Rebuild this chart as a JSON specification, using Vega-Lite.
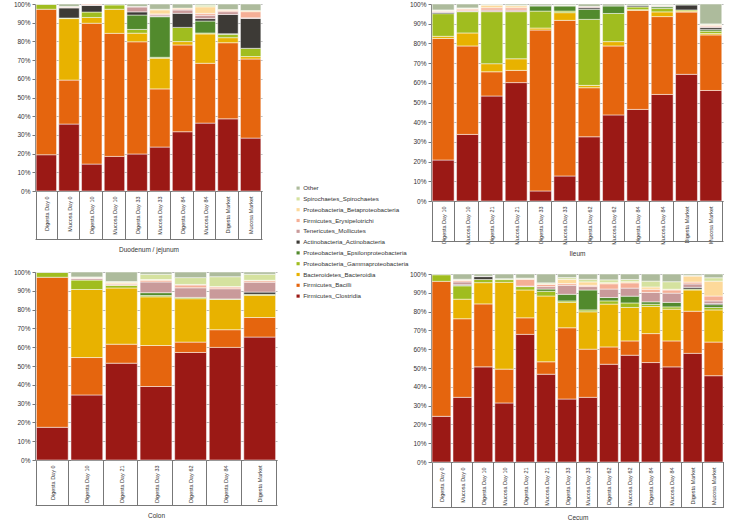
{
  "$schema": "https://vega.github.io/schema/vega-lite/v6.json",
  "padding": {"left": 0, "top": 1, "right": 0, "bottom": 0},
  "background": "white",
  "config": {
    "view": {"stroke": null},
    "font": "Liberation Sans",
    "axis": {"labelFont": "Liberation Sans", "titleFont": "Liberation Sans", "labelColor": "#333", "titleColor": "#333", "domainColor": "#777", "tickColor": "#777", "titleFontWeight": "normal"},
    "axisY": {"labelFontSize": 6.5, "tickSize": 3, "labelPadding": 2, "grid": true, "gridColor": "#b5b5b5", "gridWidth": 1},
    "axisX": {"labelFontSize": 5.5, "labelAngle": -90, "tickBand": "extent", "titleFontSize": 6.5, "labelOverlap": false, "grid": false},
    "legend": {"orient": "none", "legendX": 260, "legendY": 181, "symbolType": "square", "symbolSize": 10, "symbolStrokeWidth": 0, "labelFontSize": 6.2, "labelFont": "Liberation Sans", "labelColor": "#333", "rowPadding": 3.8, "labelOffset": 2, "padding": 0}
  },
  "datasets": {
    "d": [
      {"panel": "Duodenum / jejunum", "sample": "Digesta Day 0", "Firmicutes_Clostridia": 19.4, "Firmicutes_Bacilli": 77.8, "Proteobacteria_Gammaproteobacteria": 2.6, "Other": 0.2},
      {"panel": "Duodenum / jejunum", "sample": "Mucosa Day 0", "Firmicutes_Clostridia": 35.8, "Firmicutes_Bacilli": 23.5, "Bacteroidetes_Bacteroidia": 32.9, "Proteobacteria_Gammaproteobacteria": 0.3, "Actinobacteria_Actinobacteria": 5.4, "Tenericutes_Mollicutes": 0.3, "Firmicutes_Erysipelotrichi": 0.3, "Proteobacteria_Betaproteobacteria": 0.2, "Other": 1.3},
      {"panel": "Duodenum / jejunum", "sample": "Digesta Day 10", "Firmicutes_Clostridia": 14.4, "Firmicutes_Bacilli": 75.3, "Bacteroidetes_Bacteroidia": 3.1, "Proteobacteria_Gammaproteobacteria": 2.9, "Actinobacteria_Actinobacteria": 3.5, "Tenericutes_Mollicutes": 0.4, "Firmicutes_Erysipelotrichi": 0.4},
      {"panel": "Duodenum / jejunum", "sample": "Mucosa Day 10", "Firmicutes_Clostridia": 18.5, "Firmicutes_Bacilli": 65.8, "Bacteroidetes_Bacteroidia": 12.9, "Proteobacteria_Gammaproteobacteria": 2.3, "Other": 0.5},
      {"panel": "Duodenum / jejunum", "sample": "Digesta Day 33", "Firmicutes_Clostridia": 19.8, "Firmicutes_Bacilli": 60.0, "Bacteroidetes_Bacteroidia": 4.6, "Proteobacteria_Gammaproteobacteria": 2.0, "Proteobacteria_Epsilonproteobacteria": 7.7, "Actinobacteria_Actinobacteria": 1.7, "Tenericutes_Mollicutes": 2.6, "Firmicutes_Erysipelotrichi": 0.3, "Other": 1.3},
      {"panel": "Duodenum / jejunum", "sample": "Mucosa Day 33", "Firmicutes_Clostridia": 23.5, "Firmicutes_Bacilli": 31.1, "Bacteroidetes_Bacteroidia": 16.4, "Proteobacteria_Gammaproteobacteria": 0.5, "Proteobacteria_Epsilonproteobacteria": 21.7, "Actinobacteria_Actinobacteria": 0.2, "Tenericutes_Mollicutes": 0.8, "Firmicutes_Erysipelotrichi": 0.5, "Proteobacteria_Betaproteobacteria": 2.2, "Spirochaetes_Spirochaetes": 0.3, "Other": 2.8},
      {"panel": "Duodenum / jejunum", "sample": "Digesta Day 84", "Firmicutes_Clostridia": 31.7, "Firmicutes_Bacilli": 46.4, "Bacteroidetes_Bacteroidia": 1.8, "Proteobacteria_Gammaproteobacteria": 7.6, "Actinobacteria_Actinobacteria": 7.5, "Tenericutes_Mollicutes": 1.8, "Firmicutes_Erysipelotrichi": 0.5, "Proteobacteria_Betaproteobacteria": 0.5, "Other": 2.2},
      {"panel": "Duodenum / jejunum", "sample": "Mucosa Day 84", "Firmicutes_Clostridia": 36.3, "Firmicutes_Bacilli": 32.0, "Bacteroidetes_Bacteroidia": 15.7, "Proteobacteria_Gammaproteobacteria": 0.5, "Proteobacteria_Epsilonproteobacteria": 6.4, "Actinobacteria_Actinobacteria": 1.3, "Tenericutes_Mollicutes": 1.8, "Firmicutes_Erysipelotrichi": 1.0, "Proteobacteria_Betaproteobacteria": 3.5, "Spirochaetes_Spirochaetes": 0.9, "Other": 0.6},
      {"panel": "Duodenum / jejunum", "sample": "Digesta Market", "Firmicutes_Clostridia": 38.6, "Firmicutes_Bacilli": 40.7, "Bacteroidetes_Bacteroidia": 2.7, "Proteobacteria_Gammaproteobacteria": 1.8, "Proteobacteria_Epsilonproteobacteria": 0.3, "Actinobacteria_Actinobacteria": 10.3, "Tenericutes_Mollicutes": 1.5, "Firmicutes_Erysipelotrichi": 0.6, "Proteobacteria_Betaproteobacteria": 0.5, "Other": 3.0},
      {"panel": "Duodenum / jejunum", "sample": "Mucosa Market", "Firmicutes_Clostridia": 28.3, "Firmicutes_Bacilli": 42.3, "Bacteroidetes_Bacteroidia": 1.3, "Proteobacteria_Gammaproteobacteria": 4.4, "Actinobacteria_Actinobacteria": 16.0, "Tenericutes_Mollicutes": 0.3, "Firmicutes_Erysipelotrichi": 3.3, "Proteobacteria_Betaproteobacteria": 0.6, "Other": 3.5},

      {"panel": "Ileum", "sample": "Digesta Day 10", "Firmicutes_Clostridia": 20.8, "Firmicutes_Bacilli": 61.7, "Bacteroidetes_Bacteroidia": 1.1, "Proteobacteria_Gammaproteobacteria": 11.5, "Actinobacteria_Actinobacteria": 0.6, "Tenericutes_Mollicutes": 0.4, "Firmicutes_Erysipelotrichi": 0.3, "Proteobacteria_Betaproteobacteria": 0.3, "Spirochaetes_Spirochaetes": 0.3, "Other": 3.0},
      {"panel": "Ileum", "sample": "Mucosa Day 10", "Firmicutes_Clostridia": 33.8, "Firmicutes_Bacilli": 44.9, "Bacteroidetes_Bacteroidia": 6.6, "Proteobacteria_Gammaproteobacteria": 10.8, "Actinobacteria_Actinobacteria": 0.2, "Tenericutes_Mollicutes": 0.3, "Firmicutes_Erysipelotrichi": 0.8, "Proteobacteria_Betaproteobacteria": 0.4, "Spirochaetes_Spirochaetes": 0.2, "Other": 2.0},
      {"panel": "Ileum", "sample": "Digesta Day 21", "Firmicutes_Clostridia": 53.3, "Firmicutes_Bacilli": 12.3, "Bacteroidetes_Bacteroidia": 4.1, "Proteobacteria_Gammaproteobacteria": 26.4, "Tenericutes_Mollicutes": 0.8, "Firmicutes_Erysipelotrichi": 1.2, "Proteobacteria_Betaproteobacteria": 1.3, "Spirochaetes_Spirochaetes": 0.3, "Other": 0.3},
      {"panel": "Ileum", "sample": "Mucosa Day 21", "Firmicutes_Clostridia": 60.1, "Firmicutes_Bacilli": 6.2, "Bacteroidetes_Bacteroidia": 5.9, "Proteobacteria_Gammaproteobacteria": 23.9, "Tenericutes_Mollicutes": 0.8, "Firmicutes_Erysipelotrichi": 1.2, "Proteobacteria_Betaproteobacteria": 1.0, "Spirochaetes_Spirochaetes": 0.3, "Other": 0.6},
      {"panel": "Ileum", "sample": "Digesta Day 33", "Firmicutes_Clostridia": 5.1, "Firmicutes_Bacilli": 81.7, "Bacteroidetes_Bacteroidia": 1.0, "Proteobacteria_Gammaproteobacteria": 8.6, "Proteobacteria_Epsilonproteobacteria": 2.6, "Actinobacteria_Actinobacteria": 0.3, "Other": 0.7},
      {"panel": "Ileum", "sample": "Mucosa Day 33", "Firmicutes_Clostridia": 12.7, "Firmicutes_Bacilli": 79.0, "Bacteroidetes_Bacteroidia": 3.9, "Proteobacteria_Gammaproteobacteria": 0.8, "Proteobacteria_Epsilonproteobacteria": 2.6, "Actinobacteria_Actinobacteria": 0.2, "Spirochaetes_Spirochaetes": 0.3, "Other": 0.5},
      {"panel": "Ileum", "sample": "Digesta Day 62", "Firmicutes_Clostridia": 32.6, "Firmicutes_Bacilli": 24.9, "Bacteroidetes_Bacteroidia": 1.2, "Proteobacteria_Gammaproteobacteria": 33.5, "Proteobacteria_Epsilonproteobacteria": 5.1, "Actinobacteria_Actinobacteria": 0.8, "Tenericutes_Mollicutes": 0.5, "Firmicutes_Erysipelotrichi": 0.2, "Other": 1.2},
      {"panel": "Ileum", "sample": "Mucosa Day 62", "Firmicutes_Clostridia": 43.7, "Firmicutes_Bacilli": 35.0, "Bacteroidetes_Bacteroidia": 2.2, "Proteobacteria_Gammaproteobacteria": 14.3, "Proteobacteria_Epsilonproteobacteria": 3.8, "Other": 1.0},
      {"panel": "Ileum", "sample": "Digesta Day 84", "Firmicutes_Clostridia": 46.5, "Firmicutes_Bacilli": 50.3, "Bacteroidetes_Bacteroidia": 0.3, "Proteobacteria_Gammaproteobacteria": 1.4, "Actinobacteria_Actinobacteria": 0.6, "Other": 0.9},
      {"panel": "Ileum", "sample": "Mucosa Day 84", "Firmicutes_Clostridia": 54.1, "Firmicutes_Bacilli": 39.5, "Bacteroidetes_Bacteroidia": 2.4, "Proteobacteria_Gammaproteobacteria": 1.8, "Proteobacteria_Epsilonproteobacteria": 0.8, "Actinobacteria_Actinobacteria": 0.2, "Tenericutes_Mollicutes": 0.3, "Firmicutes_Erysipelotrichi": 0.2, "Spirochaetes_Spirochaetes": 0.3, "Other": 0.4},
      {"panel": "Ileum", "sample": "Digesta Market", "Firmicutes_Clostridia": 64.3, "Firmicutes_Bacilli": 31.6, "Bacteroidetes_Bacteroidia": 0.5, "Proteobacteria_Gammaproteobacteria": 0.6, "Actinobacteria_Actinobacteria": 2.5, "Other": 0.5},
      {"panel": "Ileum", "sample": "Mucosa Market", "Firmicutes_Clostridia": 56.1, "Firmicutes_Bacilli": 28.2, "Bacteroidetes_Bacteroidia": 0.7, "Proteobacteria_Gammaproteobacteria": 1.2, "Proteobacteria_Epsilonproteobacteria": 0.8, "Actinobacteria_Actinobacteria": 1.0, "Tenericutes_Mollicutes": 0.5, "Firmicutes_Erysipelotrichi": 0.6, "Proteobacteria_Betaproteobacteria": 0.5, "Spirochaetes_Spirochaetes": 0.3, "Other": 10.1},

      {"panel": "Colon", "sample": "Digesta Day 0", "Firmicutes_Clostridia": 17.4, "Firmicutes_Bacilli": 79.8, "Proteobacteria_Gammaproteobacteria": 2.6, "Other": 0.2},
      {"panel": "Colon", "sample": "Digesta Day 10", "Firmicutes_Clostridia": 34.6, "Firmicutes_Bacilli": 19.9, "Bacteroidetes_Bacteroidia": 36.2, "Proteobacteria_Gammaproteobacteria": 5.0, "Tenericutes_Mollicutes": 0.8, "Firmicutes_Erysipelotrichi": 0.3, "Proteobacteria_Betaproteobacteria": 0.3, "Spirochaetes_Spirochaetes": 0.3, "Other": 2.6},
      {"panel": "Colon", "sample": "Digesta Day 21", "Firmicutes_Clostridia": 51.5, "Firmicutes_Bacilli": 10.1, "Bacteroidetes_Bacteroidia": 29.9, "Proteobacteria_Gammaproteobacteria": 1.4, "Tenericutes_Mollicutes": 0.3, "Firmicutes_Erysipelotrichi": 0.6, "Proteobacteria_Betaproteobacteria": 0.6, "Spirochaetes_Spirochaetes": 0.5, "Other": 5.1},
      {"panel": "Colon", "sample": "Digesta Day 33", "Firmicutes_Clostridia": 39.1, "Firmicutes_Bacilli": 21.8, "Bacteroidetes_Bacteroidia": 25.9, "Proteobacteria_Gammaproteobacteria": 0.7, "Proteobacteria_Epsilonproteobacteria": 1.5, "Tenericutes_Mollicutes": 5.7, "Firmicutes_Erysipelotrichi": 0.9, "Proteobacteria_Betaproteobacteria": 0.4, "Spirochaetes_Spirochaetes": 2.8, "Other": 1.2},
      {"panel": "Colon", "sample": "Digesta Day 62", "Firmicutes_Clostridia": 57.2, "Firmicutes_Bacilli": 5.5, "Bacteroidetes_Bacteroidia": 23.1, "Proteobacteria_Gammaproteobacteria": 0.7, "Tenericutes_Mollicutes": 5.1, "Firmicutes_Erysipelotrichi": 1.5, "Proteobacteria_Betaproteobacteria": 0.3, "Spirochaetes_Spirochaetes": 3.6, "Other": 3.0},
      {"panel": "Colon", "sample": "Digesta Day 84", "Firmicutes_Clostridia": 59.9, "Firmicutes_Bacilli": 9.4, "Bacteroidetes_Bacteroidia": 16.1, "Proteobacteria_Gammaproteobacteria": 0.3, "Tenericutes_Mollicutes": 5.4, "Firmicutes_Erysipelotrichi": 0.9, "Proteobacteria_Betaproteobacteria": 0.3, "Spirochaetes_Spirochaetes": 5.2, "Other": 2.5},
      {"panel": "Colon", "sample": "Digesta Market", "Firmicutes_Clostridia": 65.4, "Firmicutes_Bacilli": 10.4, "Bacteroidetes_Bacteroidia": 11.8, "Proteobacteria_Gammaproteobacteria": 0.5, "Actinobacteria_Actinobacteria": 1.2, "Tenericutes_Mollicutes": 5.3, "Firmicutes_Erysipelotrichi": 0.8, "Proteobacteria_Betaproteobacteria": 0.2, "Spirochaetes_Spirochaetes": 3.2, "Other": 1.2},

      {"panel": "Cecum", "sample": "Digesta Day 0", "Firmicutes_Clostridia": 24.3, "Firmicutes_Bacilli": 71.8, "Proteobacteria_Gammaproteobacteria": 3.5, "Other": 0.4},
      {"panel": "Cecum", "sample": "Mucosa Day 0", "Firmicutes_Clostridia": 34.4, "Firmicutes_Bacilli": 41.8, "Bacteroidetes_Bacteroidia": 10.4, "Proteobacteria_Gammaproteobacteria": 7.1, "Proteobacteria_Epsilonproteobacteria": 0.3, "Actinobacteria_Actinobacteria": 0.3, "Tenericutes_Mollicutes": 1.5, "Firmicutes_Erysipelotrichi": 0.8, "Proteobacteria_Betaproteobacteria": 0.3, "Spirochaetes_Spirochaetes": 0.3, "Other": 2.8},
      {"panel": "Cecum", "sample": "Digesta Day 10", "Firmicutes_Clostridia": 50.6, "Firmicutes_Bacilli": 33.5, "Bacteroidetes_Bacteroidia": 11.3, "Proteobacteria_Gammaproteobacteria": 1.7, "Actinobacteria_Actinobacteria": 1.5, "Tenericutes_Mollicutes": 0.2, "Other": 1.2},
      {"panel": "Cecum", "sample": "Mucosa Day 10", "Firmicutes_Clostridia": 31.4, "Firmicutes_Bacilli": 18.0, "Bacteroidetes_Bacteroidia": 46.2, "Proteobacteria_Gammaproteobacteria": 1.4, "Spirochaetes_Spirochaetes": 0.5, "Other": 2.5},
      {"panel": "Cecum", "sample": "Digesta Day 21", "Firmicutes_Clostridia": 67.9, "Firmicutes_Bacilli": 8.8, "Bacteroidetes_Bacteroidia": 14.8, "Proteobacteria_Gammaproteobacteria": 1.8, "Tenericutes_Mollicutes": 0.3, "Firmicutes_Erysipelotrichi": 3.6, "Proteobacteria_Betaproteobacteria": 0.3, "Spirochaetes_Spirochaetes": 0.3, "Other": 2.2},
      {"panel": "Cecum", "sample": "Mucosa Day 21", "Firmicutes_Clostridia": 46.7, "Firmicutes_Bacilli": 6.6, "Bacteroidetes_Bacteroidia": 35.0, "Proteobacteria_Gammaproteobacteria": 2.5, "Proteobacteria_Epsilonproteobacteria": 1.2, "Tenericutes_Mollicutes": 1.3, "Firmicutes_Erysipelotrichi": 1.2, "Proteobacteria_Betaproteobacteria": 0.3, "Spirochaetes_Spirochaetes": 0.5, "Other": 4.7},
      {"panel": "Cecum", "sample": "Digesta Day 33", "Firmicutes_Clostridia": 33.5, "Firmicutes_Bacilli": 37.9, "Bacteroidetes_Bacteroidia": 13.5, "Proteobacteria_Gammaproteobacteria": 0.8, "Proteobacteria_Epsilonproteobacteria": 3.5, "Tenericutes_Mollicutes": 4.8, "Firmicutes_Erysipelotrichi": 0.9, "Proteobacteria_Betaproteobacteria": 2.3, "Spirochaetes_Spirochaetes": 0.9, "Other": 1.9},
      {"panel": "Cecum", "sample": "Mucosa Day 33", "Firmicutes_Clostridia": 34.4, "Firmicutes_Bacilli": 25.6, "Bacteroidetes_Bacteroidia": 19.9, "Proteobacteria_Gammaproteobacteria": 1.0, "Proteobacteria_Epsilonproteobacteria": 10.6, "Tenericutes_Mollicutes": 1.8, "Firmicutes_Erysipelotrichi": 0.7, "Proteobacteria_Betaproteobacteria": 1.8, "Spirochaetes_Spirochaetes": 1.4, "Other": 2.8},
      {"panel": "Cecum", "sample": "Digesta Day 62", "Firmicutes_Clostridia": 52.0, "Firmicutes_Bacilli": 9.2, "Bacteroidetes_Bacteroidia": 22.8, "Proteobacteria_Gammaproteobacteria": 1.7, "Proteobacteria_Epsilonproteobacteria": 1.8, "Tenericutes_Mollicutes": 4.5, "Firmicutes_Erysipelotrichi": 2.8, "Proteobacteria_Betaproteobacteria": 0.6, "Spirochaetes_Spirochaetes": 1.5, "Other": 3.1},
      {"panel": "Cecum", "sample": "Mucosa Day 62", "Firmicutes_Clostridia": 56.8, "Firmicutes_Bacilli": 7.6, "Bacteroidetes_Bacteroidia": 17.8, "Proteobacteria_Gammaproteobacteria": 2.4, "Proteobacteria_Epsilonproteobacteria": 3.6, "Tenericutes_Mollicutes": 4.3, "Firmicutes_Erysipelotrichi": 2.8, "Proteobacteria_Betaproteobacteria": 0.6, "Spirochaetes_Spirochaetes": 1.2, "Other": 2.9},
      {"panel": "Cecum", "sample": "Digesta Day 84", "Firmicutes_Clostridia": 52.9, "Firmicutes_Bacilli": 15.4, "Bacteroidetes_Bacteroidia": 14.4, "Proteobacteria_Gammaproteobacteria": 1.2, "Proteobacteria_Epsilonproteobacteria": 1.3, "Tenericutes_Mollicutes": 5.0, "Firmicutes_Erysipelotrichi": 1.7, "Proteobacteria_Betaproteobacteria": 1.2, "Spirochaetes_Spirochaetes": 3.1, "Other": 3.8},
      {"panel": "Cecum", "sample": "Mucosa Day 84", "Firmicutes_Clostridia": 50.6, "Firmicutes_Bacilli": 13.8, "Bacteroidetes_Bacteroidia": 16.9, "Proteobacteria_Gammaproteobacteria": 1.2, "Proteobacteria_Epsilonproteobacteria": 2.4, "Tenericutes_Mollicutes": 4.9, "Firmicutes_Erysipelotrichi": 1.7, "Proteobacteria_Betaproteobacteria": 0.4, "Spirochaetes_Spirochaetes": 4.0, "Other": 4.1},
      {"panel": "Cecum", "sample": "Digesta Market", "Firmicutes_Clostridia": 57.8, "Firmicutes_Bacilli": 22.4, "Bacteroidetes_Bacteroidia": 11.3, "Proteobacteria_Gammaproteobacteria": 0.5, "Actinobacteria_Actinobacteria": 0.9, "Tenericutes_Mollicutes": 1.8, "Firmicutes_Erysipelotrichi": 1.0, "Proteobacteria_Betaproteobacteria": 3.2, "Spirochaetes_Spirochaetes": 0.3, "Other": 0.8},
      {"panel": "Cecum", "sample": "Mucosa Market", "Firmicutes_Clostridia": 45.9, "Firmicutes_Bacilli": 17.9, "Bacteroidetes_Bacteroidia": 17.1, "Proteobacteria_Gammaproteobacteria": 1.3, "Proteobacteria_Epsilonproteobacteria": 1.5, "Actinobacteria_Actinobacteria": 0.6, "Tenericutes_Mollicutes": 1.4, "Firmicutes_Erysipelotrichi": 2.6, "Proteobacteria_Betaproteobacteria": 7.9, "Spirochaetes_Spirochaetes": 1.8, "Other": 2.0}
    ]
  },
  "data": {"name": "d"},
  "spacing": 132,
  "hconcat": [
    {
      "spacing": 16,
      "vconcat": [
        {
          "width": 227, "height": 187,
          "transform": [
            {"filter": "datum.panel === 'Duodenum / jejunum'"},
            {"fold": ["Firmicutes_Clostridia", "Firmicutes_Bacilli", "Bacteroidetes_Bacteroidia", "Proteobacteria_Gammaproteobacteria", "Proteobacteria_Epsilonproteobacteria", "Actinobacteria_Actinobacteria", "Tenericutes_Mollicutes", "Firmicutes_Erysipelotrichi", "Proteobacteria_Betaproteobacteria", "Spirochaetes_Spirochaetes", "Other"], "as": ["taxon", "pct"]},
            {"filter": "datum.pct > 0"},
            {"calculate": "indexof(['Firmicutes_Clostridia', 'Firmicutes_Bacilli', 'Bacteroidetes_Bacteroidia', 'Proteobacteria_Gammaproteobacteria', 'Proteobacteria_Epsilonproteobacteria', 'Actinobacteria_Actinobacteria', 'Tenericutes_Mollicutes', 'Firmicutes_Erysipelotrichi', 'Proteobacteria_Betaproteobacteria', 'Spirochaetes_Spirochaetes', 'Other'], datum.taxon)", "as": "k"}
          ],
          "layer": [
            {
              "mark": {"type": "bar", "stroke": "#ffffff", "strokeWidth": 0.5},
              "encoding": {
                "x": {"field": "sample", "type": "nominal", "sort": null, "scale": {"paddingInner": 0.1, "paddingOuter": 0.05}, "axis": {"title": "Duodenum / jejunum", "tickSize": 48, "labelPadding": -43, "titlePadding": 7}},
                "y": {"field": "pct", "type": "quantitative", "stack": "normalize", "scale": {"domain": [0, 1], "nice": false}, "axis": {"title": null, "format": ".0%", "values": [0, 0.1, 0.2, 0.3, 0.4, 0.5, 0.6, 0.7, 0.8, 0.9, 1], "minExtent": 35}},
                "color": {"field": "taxon", "type": "nominal",
                  "scale": {"domain": ["Firmicutes_Clostridia", "Firmicutes_Bacilli", "Bacteroidetes_Bacteroidia", "Proteobacteria_Gammaproteobacteria", "Proteobacteria_Epsilonproteobacteria", "Actinobacteria_Actinobacteria", "Tenericutes_Mollicutes", "Firmicutes_Erysipelotrichi", "Proteobacteria_Betaproteobacteria", "Spirochaetes_Spirochaetes", "Other"],
                            "range": ["#9b1915", "#e5650e", "#e8b200", "#a0bd1f", "#528a2d", "#3d3a36", "#c99a9a", "#f5af96", "#fdd99a", "#d5e29f", "#adbb9c"]},
                  "legend": {"title": null, "values": ["Other", "Spirochaetes_Spirochaetes", "Proteobacteria_Betaproteobacteria", "Firmicutes_Erysipelotrichi", "Tenericutes_Mollicutes", "Actinobacteria_Actinobacteria", "Proteobacteria_Epsilonproteobacteria", "Proteobacteria_Gammaproteobacteria", "Bacteroidetes_Bacteroidia", "Firmicutes_Bacilli", "Firmicutes_Clostridia"]}},
                "order": {"field": "k", "type": "quantitative"}
              }
            },
            {
              "mark": {"type": "bar", "opacity": 0},
              "encoding": {
                "x": {"field": "sample", "type": "nominal", "sort": null, "axis": {"orient": "bottom", "offset": 48, "labels": false, "ticks": false, "domain": true, "title": null}}
              }
            }
          ],
          "resolve": {"axis": {"x": "independent"}}
        },
        {
          "width": 242, "height": 188,
          "transform": [
            {"filter": "datum.panel === 'Colon'"},
            {"fold": ["Firmicutes_Clostridia", "Firmicutes_Bacilli", "Bacteroidetes_Bacteroidia", "Proteobacteria_Gammaproteobacteria", "Proteobacteria_Epsilonproteobacteria", "Actinobacteria_Actinobacteria", "Tenericutes_Mollicutes", "Firmicutes_Erysipelotrichi", "Proteobacteria_Betaproteobacteria", "Spirochaetes_Spirochaetes", "Other"], "as": ["taxon", "pct"]},
            {"filter": "datum.pct > 0"},
            {"calculate": "indexof(['Firmicutes_Clostridia', 'Firmicutes_Bacilli', 'Bacteroidetes_Bacteroidia', 'Proteobacteria_Gammaproteobacteria', 'Proteobacteria_Epsilonproteobacteria', 'Actinobacteria_Actinobacteria', 'Tenericutes_Mollicutes', 'Firmicutes_Erysipelotrichi', 'Proteobacteria_Betaproteobacteria', 'Spirochaetes_Spirochaetes', 'Other'], datum.taxon)", "as": "k"}
          ],
          "layer": [
            {
              "mark": {"type": "bar", "stroke": "#ffffff", "strokeWidth": 0.5},
              "encoding": {
                "x": {"field": "sample", "type": "nominal", "sort": null, "scale": {"paddingInner": 0.08, "paddingOuter": 0.04}, "axis": {"title": "Colon", "tickSize": 45, "labelPadding": -40, "titlePadding": 7}},
                "y": {"field": "pct", "type": "quantitative", "stack": "normalize", "scale": {"domain": [0, 1], "nice": false}, "axis": {"title": null, "format": ".0%", "values": [0, 0.1, 0.2, 0.3, 0.4, 0.5, 0.6, 0.7, 0.8, 0.9, 1], "minExtent": 22}},
                "color": {"field": "taxon", "type": "nominal",
                  "scale": {"domain": ["Firmicutes_Clostridia", "Firmicutes_Bacilli", "Bacteroidetes_Bacteroidia", "Proteobacteria_Gammaproteobacteria", "Proteobacteria_Epsilonproteobacteria", "Actinobacteria_Actinobacteria", "Tenericutes_Mollicutes", "Firmicutes_Erysipelotrichi", "Proteobacteria_Betaproteobacteria", "Spirochaetes_Spirochaetes", "Other"],
                            "range": ["#9b1915", "#e5650e", "#e8b200", "#a0bd1f", "#528a2d", "#3d3a36", "#c99a9a", "#f5af96", "#fdd99a", "#d5e29f", "#adbb9c"]},
                  "legend": {"title": null, "values": ["Other", "Spirochaetes_Spirochaetes", "Proteobacteria_Betaproteobacteria", "Firmicutes_Erysipelotrichi", "Tenericutes_Mollicutes", "Actinobacteria_Actinobacteria", "Proteobacteria_Epsilonproteobacteria", "Proteobacteria_Gammaproteobacteria", "Bacteroidetes_Bacteroidia", "Firmicutes_Bacilli", "Firmicutes_Clostridia"]}},
                "order": {"field": "k", "type": "quantitative"}
              }
            },
            {
              "mark": {"type": "bar", "opacity": 0},
              "encoding": {
                "x": {"field": "sample", "type": "nominal", "sort": null, "axis": {"orient": "bottom", "offset": 45, "labels": false, "ticks": false, "domain": true, "title": null}}
              }
            }
          ],
          "resolve": {"axis": {"x": "independent"}}
        }
      ]
    },
    {
      "spacing": 14,
      "vconcat": [
        {
          "width": 292, "height": 197,
          "transform": [
            {"filter": "datum.panel === 'Ileum'"},
            {"fold": ["Firmicutes_Clostridia", "Firmicutes_Bacilli", "Bacteroidetes_Bacteroidia", "Proteobacteria_Gammaproteobacteria", "Proteobacteria_Epsilonproteobacteria", "Actinobacteria_Actinobacteria", "Tenericutes_Mollicutes", "Firmicutes_Erysipelotrichi", "Proteobacteria_Betaproteobacteria", "Spirochaetes_Spirochaetes", "Other"], "as": ["taxon", "pct"]},
            {"filter": "datum.pct > 0"},
            {"calculate": "indexof(['Firmicutes_Clostridia', 'Firmicutes_Bacilli', 'Bacteroidetes_Bacteroidia', 'Proteobacteria_Gammaproteobacteria', 'Proteobacteria_Epsilonproteobacteria', 'Actinobacteria_Actinobacteria', 'Tenericutes_Mollicutes', 'Firmicutes_Erysipelotrichi', 'Proteobacteria_Betaproteobacteria', 'Spirochaetes_Spirochaetes', 'Other'], datum.taxon)", "as": "k"}
          ],
          "layer": [
            {
              "mark": {"type": "bar", "stroke": "#ffffff", "strokeWidth": 0.5},
              "encoding": {
                "x": {"field": "sample", "type": "nominal", "sort": null, "scale": {"paddingInner": 0.1, "paddingOuter": 0.05}, "axis": {"title": "Ileum", "tickSize": 40, "labelPadding": -35, "titlePadding": 6}},
                "y": {"field": "pct", "type": "quantitative", "stack": "normalize", "scale": {"domain": [0, 1], "nice": false}, "axis": {"title": null, "format": ".0%", "values": [0, 0.1, 0.2, 0.3, 0.4, 0.5, 0.6, 0.7, 0.8, 0.9, 1], "minExtent": 22}},
                "color": {"field": "taxon", "type": "nominal",
                  "scale": {"domain": ["Firmicutes_Clostridia", "Firmicutes_Bacilli", "Bacteroidetes_Bacteroidia", "Proteobacteria_Gammaproteobacteria", "Proteobacteria_Epsilonproteobacteria", "Actinobacteria_Actinobacteria", "Tenericutes_Mollicutes", "Firmicutes_Erysipelotrichi", "Proteobacteria_Betaproteobacteria", "Spirochaetes_Spirochaetes", "Other"],
                            "range": ["#9b1915", "#e5650e", "#e8b200", "#a0bd1f", "#528a2d", "#3d3a36", "#c99a9a", "#f5af96", "#fdd99a", "#d5e29f", "#adbb9c"]},
                  "legend": {"title": null, "values": ["Other", "Spirochaetes_Spirochaetes", "Proteobacteria_Betaproteobacteria", "Firmicutes_Erysipelotrichi", "Tenericutes_Mollicutes", "Actinobacteria_Actinobacteria", "Proteobacteria_Epsilonproteobacteria", "Proteobacteria_Gammaproteobacteria", "Bacteroidetes_Bacteroidia", "Firmicutes_Bacilli", "Firmicutes_Clostridia"]}},
                "order": {"field": "k", "type": "quantitative"}
              }
            },
            {
              "mark": {"type": "bar", "opacity": 0},
              "encoding": {
                "x": {"field": "sample", "type": "nominal", "sort": null, "axis": {"orient": "bottom", "offset": 40, "labels": false, "ticks": false, "domain": true, "title": null}}
              }
            }
          ],
          "resolve": {"axis": {"x": "independent"}}
        },
        {
          "width": 293, "height": 188,
          "transform": [
            {"filter": "datum.panel === 'Cecum'"},
            {"fold": ["Firmicutes_Clostridia", "Firmicutes_Bacilli", "Bacteroidetes_Bacteroidia", "Proteobacteria_Gammaproteobacteria", "Proteobacteria_Epsilonproteobacteria", "Actinobacteria_Actinobacteria", "Tenericutes_Mollicutes", "Firmicutes_Erysipelotrichi", "Proteobacteria_Betaproteobacteria", "Spirochaetes_Spirochaetes", "Other"], "as": ["taxon", "pct"]},
            {"filter": "datum.pct > 0"},
            {"calculate": "indexof(['Firmicutes_Clostridia', 'Firmicutes_Bacilli', 'Bacteroidetes_Bacteroidia', 'Proteobacteria_Gammaproteobacteria', 'Proteobacteria_Epsilonproteobacteria', 'Actinobacteria_Actinobacteria', 'Tenericutes_Mollicutes', 'Firmicutes_Erysipelotrichi', 'Proteobacteria_Betaproteobacteria', 'Spirochaetes_Spirochaetes', 'Other'], datum.taxon)", "as": "k"}
          ],
          "layer": [
            {
              "mark": {"type": "bar", "stroke": "#ffffff", "strokeWidth": 0.5},
              "encoding": {
                "x": {"field": "sample", "type": "nominal", "sort": null, "scale": {"paddingInner": 0.1, "paddingOuter": 0.05}, "axis": {"title": "Cecum", "tickSize": 45, "labelPadding": -40, "titlePadding": 7}},
                "y": {"field": "pct", "type": "quantitative", "stack": "normalize", "scale": {"domain": [0, 1], "nice": false}, "axis": {"title": null, "format": ".0%", "values": [0, 0.1, 0.2, 0.3, 0.4, 0.5, 0.6, 0.7, 0.8, 0.9, 1], "minExtent": 22}},
                "color": {"field": "taxon", "type": "nominal",
                  "scale": {"domain": ["Firmicutes_Clostridia", "Firmicutes_Bacilli", "Bacteroidetes_Bacteroidia", "Proteobacteria_Gammaproteobacteria", "Proteobacteria_Epsilonproteobacteria", "Actinobacteria_Actinobacteria", "Tenericutes_Mollicutes", "Firmicutes_Erysipelotrichi", "Proteobacteria_Betaproteobacteria", "Spirochaetes_Spirochaetes", "Other"],
                            "range": ["#9b1915", "#e5650e", "#e8b200", "#a0bd1f", "#528a2d", "#3d3a36", "#c99a9a", "#f5af96", "#fdd99a", "#d5e29f", "#adbb9c"]},
                  "legend": {"title": null, "values": ["Other", "Spirochaetes_Spirochaetes", "Proteobacteria_Betaproteobacteria", "Firmicutes_Erysipelotrichi", "Tenericutes_Mollicutes", "Actinobacteria_Actinobacteria", "Proteobacteria_Epsilonproteobacteria", "Proteobacteria_Gammaproteobacteria", "Bacteroidetes_Bacteroidia", "Firmicutes_Bacilli", "Firmicutes_Clostridia"]}},
                "order": {"field": "k", "type": "quantitative"}
              }
            },
            {
              "mark": {"type": "bar", "opacity": 0},
              "encoding": {
                "x": {"field": "sample", "type": "nominal", "sort": null, "axis": {"orient": "bottom", "offset": 45, "labels": false, "ticks": false, "domain": true, "title": null}}
              }
            }
          ],
          "resolve": {"axis": {"x": "independent"}}
        }
      ]
    }
  ]
}
